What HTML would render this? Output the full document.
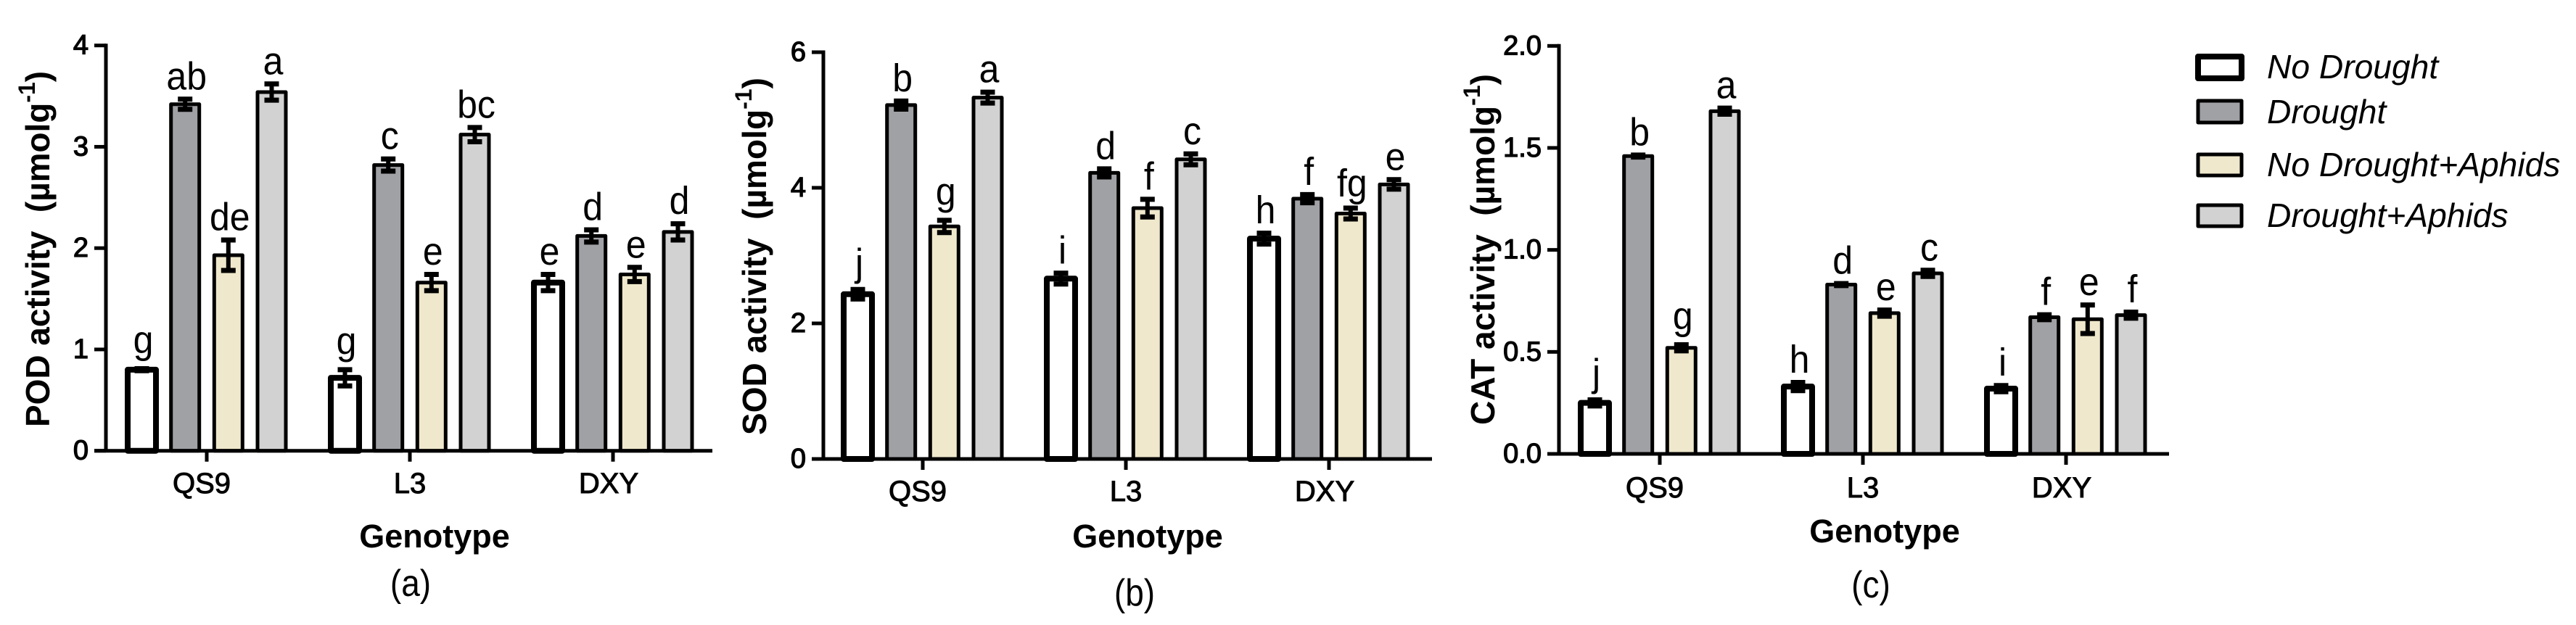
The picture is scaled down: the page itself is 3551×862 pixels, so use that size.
<!DOCTYPE html>
<html lang="en">
<head>
<meta charset="utf-8">
<title>POD, SOD and CAT activity by genotype</title>
<style>
  html, body { margin: 0; padding: 0; background: #fff; }
  svg { display: block; font-family: "Liberation Sans", Arial, sans-serif; }
  .tick-label { font-size: 38px; text-anchor: end; stroke: #000; stroke-width: 1.3px; }
  .cat-label { font-size: 40px; text-anchor: middle; stroke: #000; stroke-width: 1px; }
  .axis-title { font-size: 45px; font-weight: bold; text-anchor: middle; }
  .y-title { font-size: 46px; font-weight: bold; text-anchor: start; }
  .sig { font-size: 50px; text-anchor: middle; }
  .panel-label { font-size: 46px; text-anchor: middle; }
  .legend-text { font-size: 46.2px; font-style: italic; }
</style>
</head>
<body>
<svg id="figure" xmlns="http://www.w3.org/2000/svg" width="3551" height="862" viewBox="0 0 3551 862">
  <rect x="0" y="0" width="3551" height="862" fill="#fff"/>
  <g>
    <rect x="3030" y="78" width="60" height="30" fill="#fff" stroke="#000" stroke-width="8" stroke-linejoin="round"/>
    <text class="legend-text" x="3125" y="108">No Drought</text>
    <rect x="3030" y="139" width="60" height="30" fill="#a0a1a5" stroke="#000" stroke-width="5" stroke-linejoin="round"/>
    <text class="legend-text" x="3125" y="170">Drought</text>
    <rect x="3030" y="213" width="60" height="29" fill="#efe8cc" stroke="#000" stroke-width="5" stroke-linejoin="round"/>
    <text class="legend-text" x="3125" y="243">No Drought+Aphids</text>
    <rect x="3030" y="283" width="60" height="29" fill="#d2d2d2" stroke="#000" stroke-width="5" stroke-linejoin="round"/>
    <text class="legend-text" x="3125" y="313">Drought+Aphids</text>
  </g>
</svg>
<script>
// Shared categories
const categories = ['QS9', 'L3', 'DXY'];

// POD (a)
const podTicks = [0, 1, 2, 3, 4];
const podNoDrought = [0.80, 0.72, 1.66];
const podDrought = [3.42, 2.82, 2.12];
const podNoDroughtAphids = [1.93, 1.66, 1.74];
const podDroughtAphids = [3.54, 3.12, 2.16];
const podNoDroughtErr = [0.01, 0.08, 0.08];
const podDroughtErr = [0.05, 0.06, 0.06];
const podNoDroughtAphidsErr = [0.15, 0.08, 0.07];
const podDroughtAphidsErr = [0.08, 0.07, 0.08];
const podLetters = [['g', 'g', 'e'], ['ab', 'c', 'd'], ['de', 'e', 'e'], ['a', 'bc', 'd']];

// SOD (b)
const sodTicks = [0, 2, 4, 6];
const sodNoDrought = [2.43, 2.66, 3.25];
const sodDrought = [5.22, 4.22, 3.84];
const sodNoDroughtAphids = [3.43, 3.70, 3.62];
const sodDroughtAphids = [5.33, 4.42, 4.05];
const sodNoDroughtErr = [0.07, 0.08, 0.08];
const sodDroughtErr = [0.06, 0.06, 0.06];
const sodNoDroughtAphidsErr = [0.09, 0.13, 0.08];
const sodDroughtAphidsErr = [0.08, 0.08, 0.07];
const sodLetters = [['j', 'i', 'h'], ['b', 'd', 'f'], ['g', 'f', 'fg'], ['a', 'c', 'e']];

// CAT (c)
const catTicks = ['0.0', '0.5', '1.0', '1.5', '2.0'];
const catNoDrought = [0.25, 0.33, 0.32];
const catDrought = [1.46, 0.83, 0.67];
const catNoDroughtAphids = [0.52, 0.69, 0.66];
const catDroughtAphids = [1.68, 0.885, 0.68];
const catNoDroughtErr = [0.015, 0.02, 0.015];
const catDroughtErr = [0.005, 0.005, 0.012];
const catNoDroughtAphidsErr = [0.015, 0.015, 0.07];
const catDroughtAphidsErr = [0.015, 0.015, 0.015];
const catLetters = [['j', 'h', 'i'], ['b', 'd', 'f'], ['g', 'e', 'e'], ['a', 'c', 'f']];

const SVG_NS = 'http://www.w3.org/2000/svg';
const figure = document.getElementById('figure');
const seriesNames = ['no-drought', 'drought', 'no-drought-aphids', 'drought-aphids'];
const seriesFills = ['#fff', '#a0a1a5', '#efe8cc', '#d2d2d2'];

function make(tag, parent, attrs, text) {
  const node = document.createElementNS(SVG_NS, tag);
  Object.keys(attrs).forEach(function (k) { node.setAttribute(k, attrs[k]); });
  if (text !== undefined) node.textContent = text;
  parent.appendChild(node);
  return node;
}

function letterGap(letter) {
  if (letter === 'g') return 21.5;
  if (letter === 'j') return 19;
  if (letter === 'fg') return 16;
  return 13.5;
}

function drawPanel(cfg) {
  const g = make('g', figure, {});
  
  

  const maxTick = parseFloat(cfg.ticks[cfg.ticks.length - 1]);
  const yScale = function (v) { return cfg.y0 - (v / maxTick) * (cfg.y0 - cfg.yTop); };
  const xScale = function (i) { return cfg.x0 + i * 280; };
  const barOffsets = [-89.5, -29.8, 29.8, 89.5];

  // bars
  cfg.series.forEach(function (values, s) {
    values.forEach(function (v, i) {
      const cx = xScale(i) + barOffsets[s];
      const top = yScale(v);
      const bar = make('rect', g, {
        x: cx - 19.5, y: top, width: 39, height: cfg.y0 - top,
        fill: seriesFills[s], stroke: '#000',
        'stroke-width': s === 0 ? 8 : 5, 'stroke-linejoin': 'round'
      });
      
      
    });
  });

  // error bars and significance letters
  cfg.series.forEach(function (values, s) {
    values.forEach(function (v, i) {
      const cx = xScale(i) + barOffsets[s];
      const hi = yScale(v + cfg.errors[s][i]);
      const lo = yScale(v - cfg.errors[s][i]);
      const stem = make('line', g, { x1: cx, x2: cx, y1: hi, y2: lo, stroke: '#000', 'stroke-width': 6 });
      
      
      const caps = make('path', g, {
        d: 'M' + (cx - 10) + ' ' + hi + 'H' + (cx + 10) + 'M' + (cx - 10) + ' ' + lo + 'H' + (cx + 10),
        stroke: '#000', 'stroke-width': 7, fill: 'none'
      });
      
      

      const letter = cfg.letters[s][i];
      const sig = make('text', g, {
        class: 'sig',
        transform: 'translate(' + (cx + 2) + ',' + (hi - letterGap(letter)) + ') scale(1,1.07)'
      }, letter);
      
      
    });
  });

  // axes
  const yAxis = make('line', g, { x1: cfg.axisX, x2: cfg.axisX, y1: cfg.yTop - 2.5, y2: cfg.y0, stroke: '#000', 'stroke-width': 5 });
  
  
  const xAxis = make('line', g, { x1: cfg.axisX - 16, x2: cfg.xEnd, y1: cfg.y0, y2: cfg.y0, stroke: '#000', 'stroke-width': 5 });
  
  

  cfg.ticks.forEach(function (t) {
    const y = yScale(parseFloat(t));
    const tick = make('line', g, { x1: cfg.axisX - 16, x2: cfg.axisX, y1: y, y2: y, stroke: '#000', 'stroke-width': 5 });
    
    
    const label = make('text', g, { class: 'tick-label', x: cfg.axisX - 24, y: y + 12 }, t);
    
    
  });

  categories.forEach(function (c, i) {
    const x = xScale(i);
    const tick = make('line', g, { x1: x, x2: x, y1: cfg.y0, y2: cfg.y0 + 15, stroke: '#000', 'stroke-width': 5 });
    
    
    const label = make('text', g, { class: 'cat-label', x: x + [-7, 0, -6][i], y: cfg.catY }, c);
    
    
  });

  const xTitle = make('text', g, { class: 'axis-title', x: cfg.xTitleX, y: cfg.xTitleY }, 'Genotype');
  
  

  const yTitle = make('text', g, {
    class: 'y-title',
    transform: 'translate(' + cfg.yTitleX + ',' + cfg.yTitleStart + ') rotate(-90)'
  });
  
  
  make('tspan', yTitle, {}, cfg.name + ' activity\u00A0\u00A0(\u00B5molg');
  make('tspan', yTitle, { dy: -20, 'font-size': 32 }, '-1');
  make('tspan', yTitle, { dy: 20 }, ')');
  // stretch the spacing so the title spans the same length as the reference
  const titleChars = yTitle.textContent.length;
  const titleLength = yTitle.getComputedTextLength();
  yTitle.setAttribute('letter-spacing', (cfg.yTitleStart - cfg.yTitleEnd - titleLength) / titleChars);

  const panel = make('text', g, {
    class: 'panel-label',
    transform: 'translate(' + cfg.panelX + ',' + cfg.panelY + ') scale(1,1.12)'
  }, cfg.panel);
  
  
}

drawPanel({
  id: 'pod', name: 'POD', panel: '(a)', ticks: podTicks.map(String),
  series: [podNoDrought, podDrought, podNoDroughtAphids, podDroughtAphids],
  errors: [podNoDroughtErr, podDroughtErr, podNoDroughtAphidsErr, podDroughtAphidsErr],
  letters: podLetters,
  axisX: 146, xEnd: 982, yTop: 62.7, y0: 621.7, x0: 285,
  catY: 680, xTitleX: 599, xTitleY: 755, yTitleX: 68, yTitleStart: 589, yTitleEnd: 98, panelX: 566, panelY: 822
});
drawPanel({
  id: 'sod', name: 'SOD', panel: '(b)', ticks: sodTicks.map(String),
  series: [sodNoDrought, sodDrought, sodNoDroughtAphids, sodDroughtAphids],
  errors: [sodNoDroughtErr, sodDroughtErr, sodNoDroughtAphidsErr, sodDroughtAphidsErr],
  letters: sodLetters,
  axisX: 1135, xEnd: 1974, yTop: 72, y0: 633, x0: 1272,
  catY: 691, xTitleX: 1582, xTitleY: 755, yTitleX: 1056, yTitleStart: 600, yTitleEnd: 107, panelX: 1564, panelY: 835
});
drawPanel({
  id: 'cat', name: 'CAT', panel: '(c)', ticks: catTicks,
  series: [catNoDrought, catDrought, catNoDroughtAphids, catDroughtAphids],
  errors: [catNoDroughtErr, catDroughtErr, catNoDroughtAphidsErr, catDroughtAphidsErr],
  letters: catLetters,
  axisX: 2149, xEnd: 2990, yTop: 63.3, y0: 626, x0: 2288,
  catY: 686, xTitleX: 2598, xTitleY: 748, yTitleX: 2060, yTitleStart: 586, yTitleEnd: 102, panelX: 2579, panelY: 824
});
</script>
</body>
</html>
